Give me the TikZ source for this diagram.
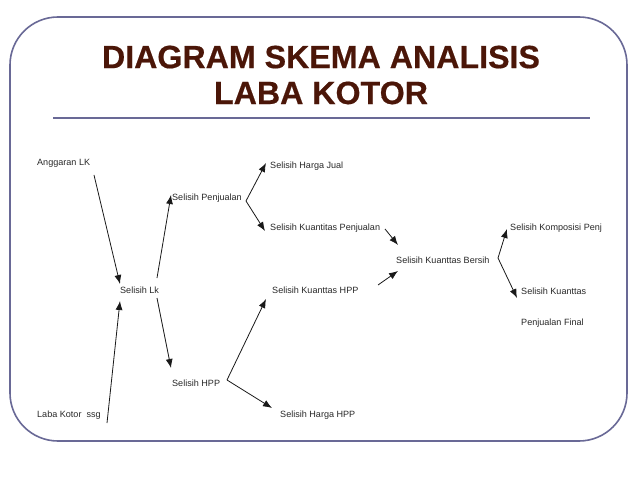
\documentclass[tikz,border=0pt]{standalone}
\usepackage{fontspec}
\setmainfont{Liberation Sans}
\newfontfamily\titlefont[FakeBold=0.5]{Liberation Sans Bold}
\usetikzlibrary{arrows.meta}
\definecolor{titlebrown}{RGB}{75,22,8}
\definecolor{slate}{RGB}{105,105,150}
\definecolor{txt}{RGB}{40,40,40}
\tikzset{
  lbl/.style={anchor=west, inner sep=0pt, text=txt, font=\fontsize{9.1}{10}\selectfont},
  arr/.style={draw=black!90, line width=0.8bp, -{Latex[length=9bp,width=7bp]}},
  frame/.style={draw=slate, line width=1.6bp, rounded corners=48bp},
  rule/.style={draw=slate, line width=1.8bp},
  ttl/.style={text=titlebrown, font=\fontsize{32.3}{36}\titlefont, align=center, inner sep=0pt}
}
\begin{document}
\begin{tikzpicture}[x=1bp,y=-1bp]
\useasboundingbox (0,0) rectangle (638,479);
\draw[frame] (10,17) rectangle (627,441);
\node[ttl] (title) at (321,75) {DIAGRAM SKEMA ANALISIS\\LABA KOTOR};
\coordinate (rl) at (53,118);
\coordinate (rr) at (590,118);
\draw[rule] (rl) -- (rr);

\node[lbl] (ang) at (37,163) {Anggaran LK};
\node[lbl] (pen) at (172,198) {Selisih Penjualan};
\node[lbl] (hj) at (270,166) {Selisih Harga Jual};
\node[lbl] (kp) at (270,228) {Selisih Kuantitas Penjualan};
\node[lbl] (lk) at (120,290) {Selisih Lk};
\node[lbl] (khpp) at (272,290) {Selisih Kuanttas HPP};
\node[lbl] (kb) at (396,260) {Selisih Kuanttas Bersih};
\node[lbl] (kom) at (510,228) {Selisih Komposisi Penj};
\node[lbl] (kf) at (521,291) {Selisih Kuanttas};
\node[lbl] (pf) at (521,323) {Penjualan Final};
\node[lbl] (hpp) at (172,383) {Selisih HPP};
\node[lbl] (hhpp) at (280,415) {Selisih Harga HPP};
\node[lbl] (laba) at (37,415) {Laba Kotor\ \ ssg};

% connector end points
\coordinate (a1) at (94,175);  \coordinate (a2) at (120,284);
\coordinate (b1) at (157,278); \coordinate (b2) at (171,195);
\coordinate (vp) at (246,201); \coordinate (hjt) at (266,163); \coordinate (kpt) at (265,231);
\coordinate (c1) at (385,229); \coordinate (c2) at (398,245);
\coordinate (d1) at (378,285); \coordinate (d2) at (398,271);
\coordinate (vb) at (498,258); \coordinate (komt) at (507,229); \coordinate (kft) at (517,298);
\coordinate (e1) at (157,298); \coordinate (e2) at (171,368);
\coordinate (f1) at (107,423); \coordinate (f2) at (120,301);
\coordinate (vh) at (227,380); \coordinate (kht) at (266,299); \coordinate (hht) at (272,408);

\draw[arr] (a1) -- (a2);
\draw[arr] (b1) -- (b2);
\draw[arr] (vp) -- (hjt);
\draw[arr] (vp) -- (kpt);
\draw[arr] (c1) -- (c2);
\draw[arr] (d1) -- (d2);
\draw[arr] (vb) -- (komt);
\draw[arr] (vb) -- (kft);
\draw[arr] (e1) -- (e2);
\draw[arr] (f1) -- (f2);
\draw[arr] (vh) -- (kht);
\draw[arr] (vh) -- (hht);
\end{tikzpicture}
\end{document}
